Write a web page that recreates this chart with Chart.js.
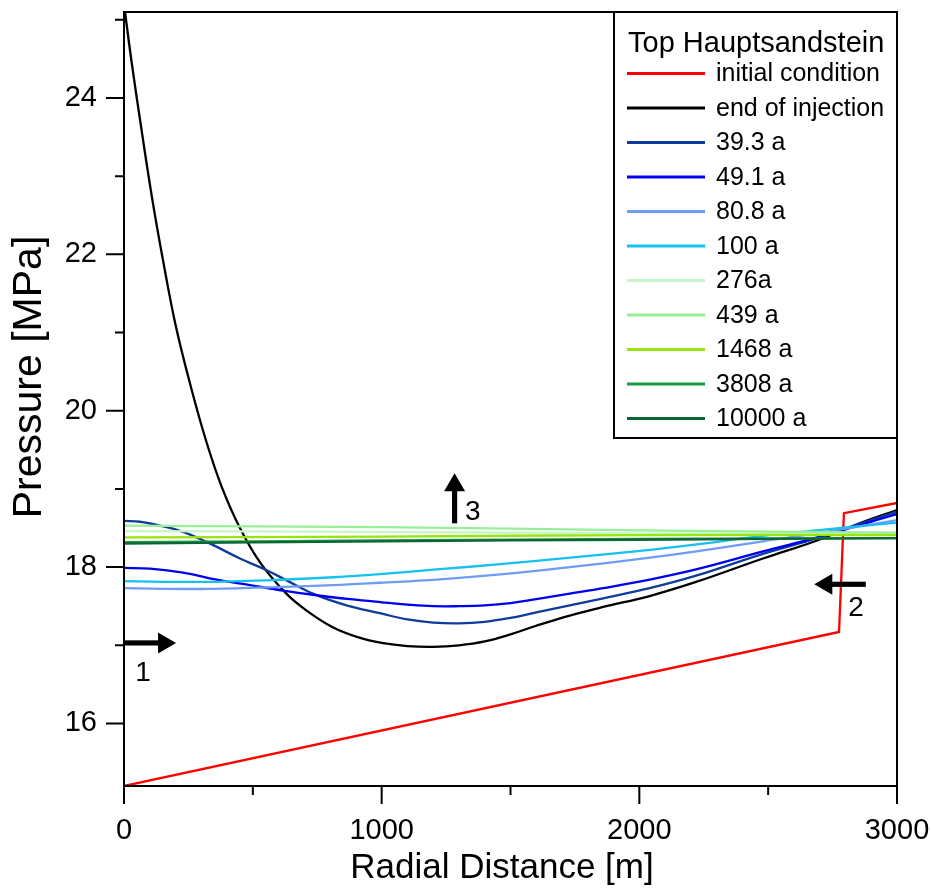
<!DOCTYPE html>
<html><head><meta charset="utf-8">
<script src="https://cdn.jsdelivr.net/npm/chart.js@4.4.1/dist/chart.umd.min.js"></script>
<style>html,body{margin:0;padding:0;background:#fff}</style>
</head><body>
<canvas id="c" width="931" height="891" style="width:931px;height:891px;display:block"></canvas>
<script>
// ---------- data ----------
const legendTitle = 'Top Hauptsandstein';
const xTitle = 'Radial Distance [m]';
const yTitle = 'Pressure [MPa]';
const seriesLabels = ['initial condition','end of injection','39.3 a','49.1 a','80.8 a','100 a','276a','439 a','1468 a','3808 a','10000 a'];
const seriesColors = ['#ff0000','#000000','#0e3b9c','#0000ee','#6e9df5','#16c1f2','#c6f7c6','#98ef98','#9be30f','#1b9a42','#0b6636'];

const rInitial = [0, 2775, 2794, 3000];
const pInitial = [15.2, 17.17, 18.69, 18.82];

const rEnd = [0, 30, 70, 110, 150, 200, 260, 320, 380, 450, 530, 630, 710, 810, 910, 1000, 1100, 1200, 1300, 1400, 1500, 1600, 1730, 1860, 2040, 2220, 2480, 2690, 2870, 3000];
const pEnd = [25.2, 24.45, 23.55, 22.7, 21.95, 21.1, 20.3, 19.6, 19.02, 18.5, 18.05, 17.66, 17.44, 17.23, 17.10, 17.03, 16.99, 16.98, 17.00, 17.05, 17.14, 17.25, 17.38, 17.49, 17.63, 17.81, 18.11, 18.34, 18.58, 18.73];

const r39 = [0, 62, 140, 229, 334, 450, 554, 631, 733, 864, 993, 1100, 1200, 1300, 1400, 1500, 1600, 1730, 1860, 2040, 2220, 2480, 2690, 2870, 3000];
const p39 = [18.59, 18.58, 18.53, 18.45, 18.30, 18.11, 17.96, 17.83, 17.66, 17.51, 17.41, 17.33, 17.29, 17.28, 17.30, 17.35, 17.42, 17.51, 17.60, 17.73, 17.89, 18.17, 18.37, 18.57, 18.71];

const r49 = [0, 101, 229, 359, 489, 617, 748, 878, 1000, 1100, 1200, 1300, 1400, 1500, 1600, 1730, 1860, 2040, 2220, 2480, 2690, 2870, 3000];
const p49 = [17.99, 17.98, 17.93, 17.84, 17.77, 17.70, 17.64, 17.59, 17.55, 17.52, 17.50, 17.50, 17.51, 17.54, 17.59, 17.66, 17.73, 17.84, 17.97, 18.20, 18.38, 18.55, 18.68];

const r80 = [0, 295, 554, 811, 993, 1213, 1471, 1731, 2041, 2222, 2480, 2688, 3000];
const p80 = [17.73, 17.72, 17.74, 17.77, 17.80, 17.84, 17.91, 18.00, 18.12, 18.20, 18.33, 18.43, 18.60];

const r100 = [0, 295, 554, 811, 993, 1213, 1471, 1731, 2041, 2222, 2480, 2688, 3000];
const p100 = [17.82, 17.81, 17.83, 17.87, 17.91, 17.97, 18.04, 18.12, 18.22, 18.29, 18.40, 18.47, 18.57];

const rLate = [0, 1000, 2000, 3000];
const p276 = [18.46, 18.45, 18.43, 18.43];
const p439 = [18.53, 18.51, 18.47, 18.44];
const p1468 = [18.38, 18.39, 18.41, 18.41];
const p3808 = [18.32, 18.34, 18.36, 18.37];
const p10000 = [18.30, 18.33, 18.35, 18.37];

const radialTicks = [0, 1000, 2000, 3000];
const radialMinor = [500, 1500, 2500];
const pressureTicks = [16, 18, 20, 22, 24];
const pressureMinor = [17, 19, 21, 23, 25];

const arrowLabels = ['1', '2', '3'];
const arrowFromR = [0, 2879, 1283];
const arrowFromP = [17.03, 17.78, 18.56];
const arrowToR = [202, 2679, 1283];
const arrowToP = [17.03, 17.78, 19.20];
const arrowLabelR = [74, 2841, 1354];
const arrowLabelP = [16.64, 17.47, 18.70];

// ---------- build ----------
const seriesR = [rInitial, rEnd, r39, r49, r80, r100, rLate, rLate, rLate, rLate, rLate];
const seriesP = [pInitial, pEnd, p39, p49, p80, p100, p276, p439, p1468, p3808, p10000];
const FONT = '"Liberation Sans", Arial, sans-serif';

const datasets = seriesLabels.map((lab, i) => ({
  label: lab,
  data: seriesR[i].map((r, j) => ({x: r, y: seriesP[i][j]})),
  borderColor: seriesColors[i],
  backgroundColor: seriesColors[i],
  borderWidth: 2.3,
  pointRadius: 0,
  fill: false,
  tension: i === 0 ? 0 : 0.4,
  clip: 0,
  order: seriesLabels.length - i
}));

const zeroPad = s => { s.paddingTop = 0; s.paddingBottom = 0; s.paddingLeft = 0; s.paddingRight = 0; };

const decor = {
  id: 'decor',
  afterDatasetsDraw(chart) {
    const ctx = chart.ctx, a = chart.chartArea;
    const xs = chart.scales.x, ys = chart.scales.y;
    ctx.save();
    // frame
    ctx.strokeStyle = '#000'; ctx.lineWidth = 2;
    ctx.strokeRect(a.left, a.top, a.right - a.left, a.bottom - a.top);
    // ticks
    ctx.beginPath();
    pressureTicks.forEach(v => { const y = ys.getPixelForValue(v); ctx.moveTo(a.left, y); ctx.lineTo(a.left - 18, y); });
    pressureMinor.forEach(v => { const y = ys.getPixelForValue(v); ctx.moveTo(a.left, y); ctx.lineTo(a.left - 9, y); });
    radialTicks.forEach(v => { const x = xs.getPixelForValue(v); ctx.moveTo(x, a.bottom); ctx.lineTo(x, a.bottom + 18); });
    radialMinor.forEach(v => { const x = xs.getPixelForValue(v); ctx.moveTo(x, a.bottom); ctx.lineTo(x, a.bottom + 9); });
    ctx.stroke();

    // axis titles
    ctx.fillStyle = '#000';
    ctx.textAlign = 'center'; ctx.textBaseline = 'middle';
    ctx.font = '35px ' + FONT;
    ctx.fillText(xTitle, 502, 868);
    ctx.save();
    ctx.translate(30, 377); ctx.rotate(-Math.PI / 2);
    ctx.font = '41px ' + FONT;
    ctx.fillText(yTitle, 0, 0);
    ctx.restore();

    // arrows
    arrowLabels.forEach((lab, i) => {
      const x0 = xs.getPixelForValue(arrowFromR[i]), y0 = ys.getPixelForValue(arrowFromP[i]);
      const x1 = xs.getPixelForValue(arrowToR[i]), y1 = ys.getPixelForValue(arrowToP[i]);
      const ang = Math.atan2(y1 - y0, x1 - x0);
      const len = Math.hypot(x1 - x0, y1 - y0);
      ctx.save();
      ctx.translate(x0, y0); ctx.rotate(ang);
      ctx.fillRect(0, -2.6, len - 17, 5.2);
      ctx.beginPath();
      ctx.moveTo(len, 0); ctx.lineTo(len - 18, -10.5); ctx.lineTo(len - 18, 10.5); ctx.closePath();
      ctx.fill();
      ctx.restore();
      ctx.font = '28px ' + FONT;
      ctx.textAlign = 'center'; ctx.textBaseline = 'middle';
      ctx.fillText(lab, xs.getPixelForValue(arrowLabelR[i]), ys.getPixelForValue(arrowLabelP[i]));
    });

    // legend
    const lx = 614, ly = a.top, lw = a.right - 614, lh = 426;
    ctx.fillStyle = '#fff';
    ctx.fillRect(lx, ly, lw, lh);
    ctx.strokeStyle = '#000'; ctx.lineWidth = 2;
    ctx.strokeRect(lx, ly, lw, lh);
    ctx.fillStyle = '#000';
    ctx.textAlign = 'left'; ctx.textBaseline = 'middle';
    ctx.font = '29px ' + FONT;
    ctx.fillText(legendTitle, 628, ly + 32);
    ctx.font = '25px ' + FONT;
    seriesLabels.forEach((lab, i) => {
      const y = ly + 61.5 + i * 34.5;
      ctx.strokeStyle = seriesColors[i]; ctx.lineWidth = 3;
      ctx.beginPath(); ctx.moveTo(627, y); ctx.lineTo(705, y); ctx.stroke();
      ctx.fillStyle = '#000';
      ctx.fillText(lab, 716, y + 1);
    });
    ctx.restore();
  }
};

new Chart(document.getElementById('c'), {
  type: 'line',
  data: { datasets },
  options: {
    responsive: false,
    animation: false,
    devicePixelRatio: 1,
    layout: { autoPadding: false, padding: { left: 0, right: 34, top: 12, bottom: 0 } },
    plugins: { legend: { display: false }, tooltip: { enabled: false } },
    scales: {
      x: {
        type: 'linear', min: 0, max: 3000,
        afterBuildTicks: s => { s.ticks = radialTicks.map(v => ({value: v})); },
        afterFit: s => { s.height = 105; zeroPad(s); },
        grid: { display: false, drawTicks: false },
        border: { display: false },
        ticks: { color: '#000', font: { family: FONT, size: 29 }, padding: 28, maxRotation: 0, autoSkip: false, callback: v => String(v) },
        title: { display: false }
      },
      y: {
        type: 'linear', min: 15.2, max: 25.1,
        afterBuildTicks: s => { s.ticks = pressureTicks.map(v => ({value: v})); },
        afterFit: s => { s.width = 124; zeroPad(s); },
        grid: { display: false, drawTicks: false },
        border: { display: false },
        ticks: { color: '#000', font: { family: FONT, size: 29 }, padding: 27, autoSkip: false, callback: v => String(v) },
        title: { display: false }
      }
    }
  },
  plugins: [decor]
});
</script>
</body></html>
